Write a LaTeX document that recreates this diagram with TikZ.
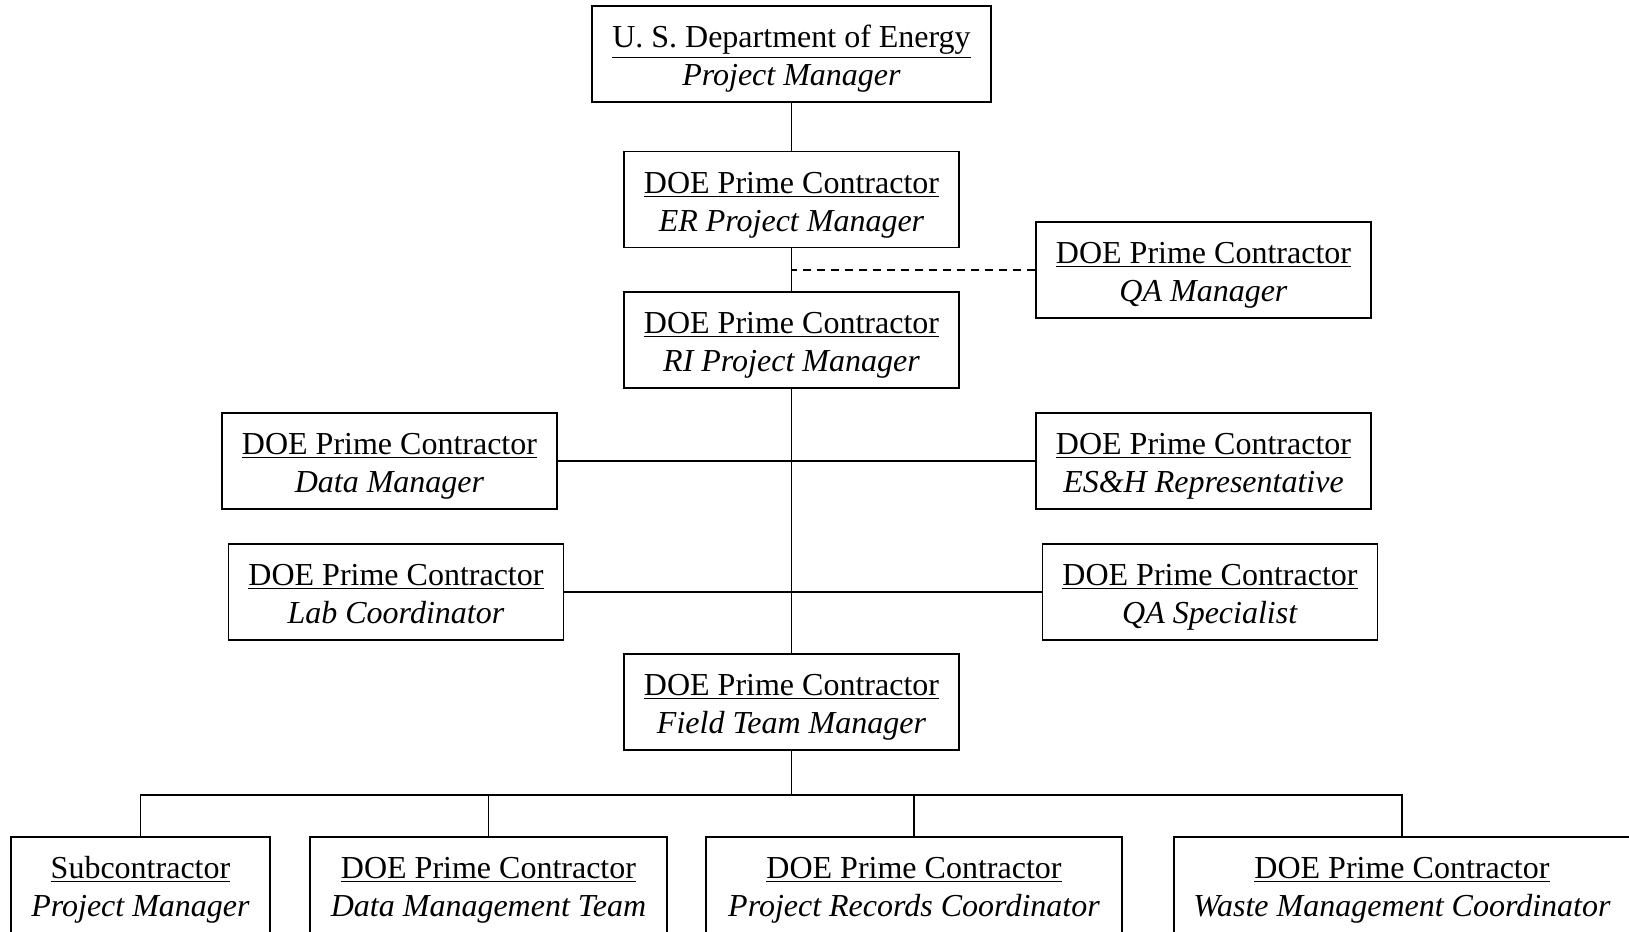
\documentclass[tikz,border=0pt]{standalone}
\usepackage{fontspec}
\setmainfont{Liberation Serif}
\tikzset{
  orgbox/.style={draw, line width=0.7pt, align=center, inner sep=0pt,
    minimum height=48pt, minimum width=167.5pt},
  link/.style={line width=0.9pt}
}
\newcommand{\orgtext}[2]{\rule{0pt}{18.5pt}\underline{#1}\\\textit{#2}\strut}
\begin{document}
\begin{tikzpicture}[x=0.5pt,y=-0.5pt,font=\fontsize{16}{19.2}\selectfont]
  \useasboundingbox (0,0) rectangle (1629,932);
  \clip (0,0) rectangle (1629,932);
  % top of the chart
  \node[orgbox, minimum width=199.5pt] (doe) at (791.5,54) {\orgtext{U. S. Department of Energy}{Project Manager}};
  \node[orgbox] (er) at (791.5,199.5) {\orgtext{DOE Prime Contractor}{ER Project Manager}};
  \node[orgbox] (qamgr) at (1203.5,270) {\orgtext{DOE Prime Contractor}{QA Manager}};
  \node[orgbox] (ri) at (791.5,340) {\orgtext{DOE Prime Contractor}{RI Project Manager}};
  % staff
  \node[orgbox] (data) at (389.5,461) {\orgtext{DOE Prime Contractor}{Data Manager}};
  \node[orgbox] (esh) at (1203.5,461) {\orgtext{DOE Prime Contractor}{ES\&H Representative}};
  \node[orgbox] (lab) at (396,592) {\orgtext{DOE Prime Contractor}{Lab Coordinator}};
  \node[orgbox] (qaspec) at (1210,592) {\orgtext{DOE Prime Contractor}{QA Specialist}};
  \node[orgbox] (field) at (791.5,702) {\orgtext{DOE Prime Contractor}{Field Team Manager}};
  % field level
  \node[orgbox, minimum width=129.5pt] (sub) at (140.5,885) {\orgtext{Subcontractor}{Project Manager}};
  \node[orgbox, minimum width=178.5pt] (dmt) at (488.5,885) {\orgtext{DOE Prime Contractor}{Data Management Team}};
  \node[orgbox, minimum width=208pt] (prc) at (914,885) {\orgtext{DOE Prime Contractor}{Project Records Coordinator}};
  \node[orgbox, minimum width=228pt] (wmc) at (1402,885) {\orgtext{DOE Prime Contractor}{Waste Management Coordinator}};
  \coordinate (bus) at (791.5,795);
  \begin{scope}[link]
    \draw (doe) -- (er);
    \draw (er) -- (ri);
    \draw[dashed, dash pattern=on 4pt off 3pt] (qamgr.west) -- (qamgr.west -| er.south);
    \draw (ri) -- (field);
    \draw (data) -- (esh);
    \draw (lab) -- (qaspec);
    \draw (field) -- (bus);
    \draw (sub.north) |- (bus) -| (wmc.north);
    \draw (dmt.north) -- (dmt.north |- bus);
    \draw (prc.north) -- (prc.north |- bus);
  \end{scope}
\end{tikzpicture}
\end{document}
